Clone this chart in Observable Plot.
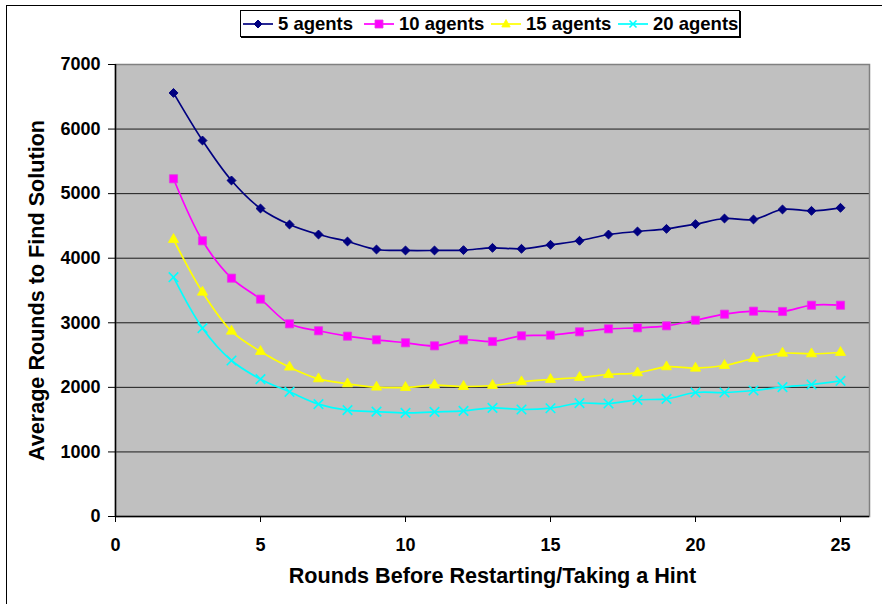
<!DOCTYPE html>
<html>
<head>
<meta charset="utf-8">
<script src="https://cdn.jsdelivr.net/npm/d3@7"></script>
<script src="https://cdn.jsdelivr.net/npm/@observablehq/plot@0.6"></script>
<style>
  html, body { margin: 0; padding: 0; background: #fff; }
  #wrap { position: relative; width: 882px; height: 604px; overflow: hidden; font-family: "Liberation Sans", Arial, sans-serif; }
  #border { position: absolute; left: 6px; top: 5px; width: 900px; height: 620px; border-left: 1.5px solid #000; border-top: 1.5px solid #000; box-sizing: border-box; }
  #chart { position: absolute; left: 0; top: 0; }
  #legend { position: absolute; left: 240px; top: 10px; width: 500px; height: 27px; border: 1px solid #000; box-shadow: 1px 1px 0 #000; background: #fff; box-sizing: border-box; }
  .item { position: absolute; top: 0; height: 25px; display: flex; align-items: center; font-weight: bold; font-size: 18.5px; color: #000; white-space: nowrap; }
  .item svg { margin-right: 5px; }
</style>
</head>
<body>
<div id="wrap">
  <div id="border"></div>
  <div id="chart"></div>
  <div id="legend"></div>
</div>
<script>
// ---- data ----
const rounds = [2,3,4,5,6,7,8,9,10,11,12,13,14,15,16,17,18,19,20,21,22,23,24,25];
const agents5  = [6560,5823,5204,4770,4522,4367,4259,4135,4120,4120,4125,4161,4146,4208,4270,4367,4414,4455,4527,4615,4600,4755,4734,4781];
const agents10 = [5230,4270,3691,3366,2984,2876,2793,2736,2690,2643,2736,2710,2798,2808,2860,2906,2922,2953,3040,3133,3180,3175,3272,3272];
const agents15 = [4290,3474,2870,2555,2313,2132,2055,2003,1998,2034,2013,2029,2086,2122,2153,2199,2225,2318,2297,2339,2447,2529,2519,2540];
const agents20 = [3706,2917,2416,2127,1931,1740,1647,1625,1605,1620,1635,1683,1657,1677,1755,1750,1807,1822,1920,1920,1951,2003,2044,2101];
const seriesNames = ["5 agents","10 agents","15 agents","20 agents"];
const xTicks = [0,5,10,15,20,25];
const yTicks = [0,1000,2000,3000,4000,5000,6000,7000];
const xTitle = "Rounds Before Restarting/Taking a Hint";
const yTitle = "Average Rounds to Find Solution";

const styles = [
  {name: seriesNames[0], values: agents5,  color: "#000080", symbol: "diamond2", r: 4, fill: "#000080", stroke: "#000080", sw: 1},
  {name: seriesNames[1], values: agents10, color: "#FF00FF", symbol: "square",   r: 4.6, fill: "#FF00FF", stroke: "#E040E0", sw: 0.8},
  {name: seriesNames[2], values: agents15, color: "#FFFF00", symbol: "triangle", r: 3.8, fill: "#FFFF00", stroke: "#FFFF00", sw: 0.8},
  {name: seriesNames[3], values: agents20, color: "#00FFFF", symbol: "times",    r: 4.4, fill: "none",    stroke: "#00FFFF", sw: 1.6}
];

const rows = styles.map(s => rounds.map((x, i) => ({x, y: s.values[i], series: s.name})));

const marks = [
  Plot.frame({fill: "#C0C0C0", stroke: null}),
  Plot.ruleY(yTicks.filter(v => v > 0 && v < 7000), {stroke: "#1a1a1a", strokeWidth: 1}),
  Plot.frame({stroke: "#808080", strokeWidth: 1.5, fill: null}),
  Plot.ruleX([0], {stroke: "#000", strokeWidth: 1.5}),
  Plot.ruleY([0], {stroke: "#000", strokeWidth: 1.5}),
  Plot.axisY({ticks: yTicks, tickSize: 7, tickPadding: 8, label: null, tickFormat: d => String(d), stroke: "#000"}),
  Plot.axisX({ticks: xTicks, tickSize: 6, tickPadding: 16, label: null, tickFormat: d => String(d), stroke: "#000"}),
  Plot.text([xTitle], {frameAnchor: "bottom", dy: 66, textAnchor: "middle", fontSize: 21.6, fontWeight: "bold", fill: "#000"}),
  Plot.text([yTitle], {frameAnchor: "left", dx: -78, rotate: -90, textAnchor: "middle", fontSize: 21.6, fontWeight: "bold", fill: "#000"})
];
styles.forEach((s, k) => {
  marks.push(Plot.line(rows[k], {x: "x", y: "y", stroke: s.color, strokeWidth: 1.7, curve: "catmull-rom"}));
});
styles.forEach((s, k) => {
  marks.push(Plot.dot(rows[k], {x: "x", y: "y", symbol: () => s.symbol, r: s.r, fill: s.fill, stroke: s.stroke, strokeWidth: s.sw}));
});

const chart = Plot.plot({
  width: 882,
  height: 604,
  marginLeft: 115,
  marginRight: 13,
  marginTop: 64,
  marginBottom: 88,
  x: {domain: [0, 26]},
  y: {domain: [0, 7000]},
  symbol: {type: "identity"},
  style: {fontFamily: "'Liberation Sans', Arial, sans-serif", fontSize: "18px", fontWeight: "bold", background: "transparent", color: "#000", overflow: "visible"},
  marks
});
document.getElementById("chart").appendChild(chart);

// ---- legend ----
const legend = document.getElementById("legend");
const itemLeft = [2, 123, 250, 377];
const symbolPaths = {
  "diamond2": "M0,-4L4,0L0,4L-4,0Z",
  "square": "M-4,-4H4V4H-4Z",
  "triangle": "M0,-4.5L4.2,3L-4.2,3Z",
  "times": "M-3.5,-3.5L3.5,3.5M3.5,-3.5L-3.5,3.5"
};
styles.forEach((s, k) => {
  const div = document.createElement("div");
  div.className = "item";
  div.style.left = itemLeft[k] + "px";
  const fillAttr = s.fill === "none" ? "none" : s.fill;
  div.innerHTML = `<svg width="30" height="14" viewBox="0 0 30 14"><line x1="0" y1="7" x2="30" y2="7" stroke="${s.color}" stroke-width="1.7"/><path transform="translate(15,7)" d="${symbolPaths[s.symbol]}" fill="${fillAttr}" stroke="${s.stroke}" stroke-width="${s.sw}"/></svg><span>${s.name}</span>`;
  legend.appendChild(div);
});
</script>
</body>
</html>
